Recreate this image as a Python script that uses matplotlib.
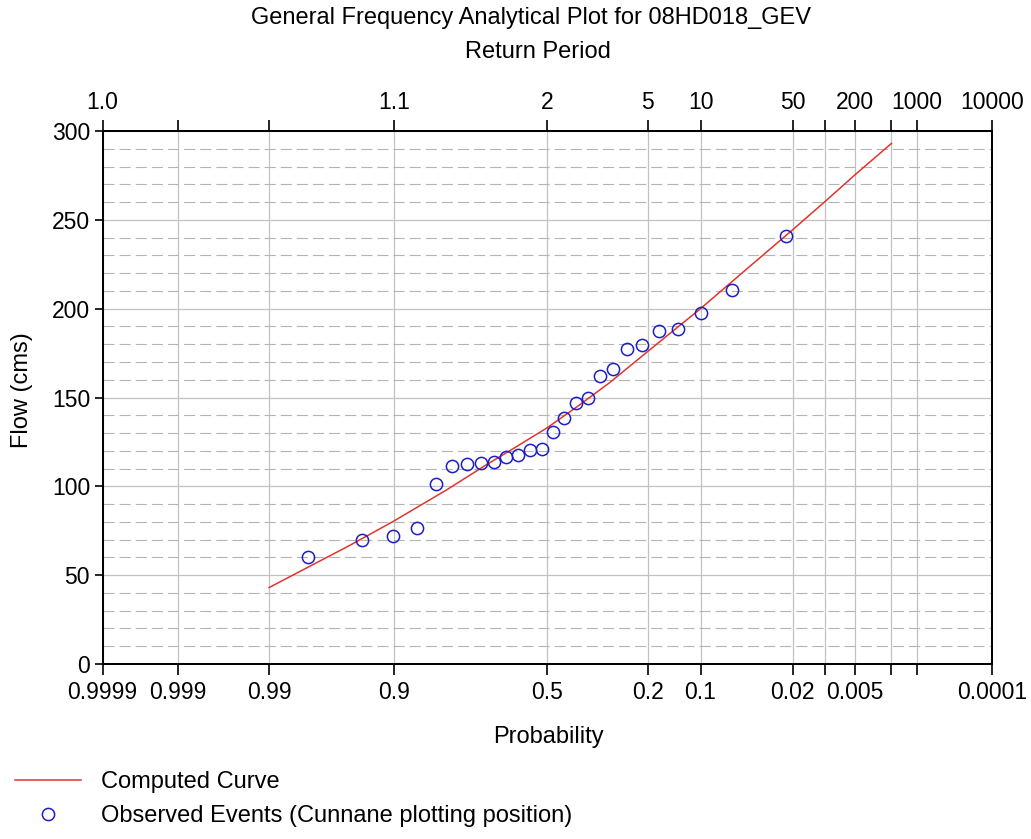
from statistics import NormalDist
import numpy as np
import matplotlib
matplotlib.use('Agg')
import matplotlib.pyplot as plt
from matplotlib.lines import Line2D
from matplotlib.ticker import MultipleLocator

plt.rcParams['font.family'] = ['Liberation Sans', 'DejaVu Sans']

# computed GEV curve: exceedance probability -> flow (cms)
curve_prob = [0.99, 0.95, 0.9, 0.8, 0.7, 0.6, 0.5, 0.4, 0.3, 0.2, 0.1, 0.05, 0.02, 0.01, 0.005, 0.002]
curve_flow = [43, 67, 80.5, 98, 111.5, 122.5, 133, 145, 158.5, 176, 200, 221, 244.5, 260.5, 275.5, 293]

# ranked annual peaks and their Cunnane plotting positions
obs_prob = [0.0229, 0.0611, 0.0992, 0.1374, 0.1756, 0.2137, 0.2519, 0.2901, 0.3282,
            0.3664, 0.4046, 0.4427, 0.4809, 0.5191, 0.5573, 0.5954, 0.6336, 0.6718,
            0.7099, 0.7481, 0.7863, 0.8244, 0.8626, 0.9008, 0.9389, 0.9771]
obs_flow = [241, 210.5, 197.5, 188.5, 187.5, 179.5, 177.5, 166, 162,
            150, 147, 138.5, 130.5, 121, 120.5, 117.5, 116.5, 113.5,
            113, 112.5, 111.5, 101.5, 76.5, 72, 70, 60.5]

tick_prob = [0.9999, 0.999, 0.99, 0.9, 0.5, 0.2, 0.1, 0.02, 0.01, 0.005, 0.002, 0.001, 0.0001]
prob_labels = ['0.9999', '0.999', '0.99', '0.9', '0.5', '0.2', '0.1', '0.02', '', '0.005', '', '', '0.0001']
period_labels = ['1.0', '', '', '1.1', '2', '5', '10', '50', '', '200', '', '1000', '10000']

nd = NormalDist()
_inv = np.vectorize(lambda q: nd.inv_cdf(1 - q), otypes=[float])
_cdf = np.vectorize(lambda v: 1 - nd.cdf(v), otypes=[float])


def prob_to_z(p):
    p = np.clip(np.asarray(p, dtype=float), 1e-12, 1 - 1e-12)
    return _inv(p)


def z_to_prob(z):
    return _cdf(np.asarray(z, dtype=float))


def setup_prob_axis(a):
    # normal probability paper, high exceedance probability on the left
    a.set_xscale('function', functions=(prob_to_z, z_to_prob))
    a.set_xlim(0.0001, 0.9999)


red = '#e0342c'
blue = '#1e1ec8'
grid_col = '#c2c2c2'

fig = plt.figure(figsize=(10.31, 8.39), dpi=100)
ax = fig.add_axes([102.5 / 1031, 1 - 664 / 839, (992 - 102.5) / 1031, (664 - 131) / 839])

setup_prob_axis(ax)
ax.set_ylim(0, 300)
ax.set_yticks(range(0, 301, 50))
ax.yaxis.set_minor_locator(MultipleLocator(10))
ax.set_xticks(tick_prob, labels=prob_labels)

ax.set_axisbelow(True)
ax.grid(axis='x', which='major', color=grid_col, lw=0.9, ls='-')
ax.grid(axis='y', which='major', color=grid_col, lw=0.9, ls='-')
ax.grid(axis='y', which='minor', color='#b4b4b4', lw=0.8, ls=(0, (10, 4.5)))

curve_line, = ax.plot(curve_prob, curve_flow, color=red, lw=1.1, zorder=3)
ax.plot(obs_prob, obs_flow, ls='none', marker='o', ms=8.8, mfc='none',
        mec=blue, mew=1.1, zorder=4)

ax.tick_params(axis='x', which='major', direction='out', length=8, width=1.2,
               pad=4, labelsize=16.5, top=False)
ax.tick_params(axis='y', which='major', direction='out', length=6, width=1.2,
               pad=3, labelsize=16.5, right=False)
ax.tick_params(axis='y', which='minor', length=0)
for s in ax.spines.values():
    s.set_linewidth(1.3)

# return period scale along the top
ax_top = ax.twiny()
setup_prob_axis(ax_top)
ax_top.set_xticks(tick_prob, labels=period_labels)
ax_top.tick_params(axis='x', direction='out', length=8, width=1.2, pad=4, labelsize=16.5)
for s in ax_top.spines.values():
    s.set_linewidth(1.3)

fig.text(531 / 1031, 1 - 18 / 839, 'General Frequency Analytical Plot for 08HD018_GEV',
         ha='center', va='center', fontsize=17)
fig.text(538 / 1031, 1 - 52 / 839, 'Return Period', ha='center', va='center', fontsize=17)
fig.text(548 / 1031, 1 - 737 / 839, 'Probability', ha='center', va='center', fontsize=17)
fig.text(22 / 1031, 1 - 390 / 839, 'Flow (cms)', ha='center', va='center',
         rotation=90, fontsize=17)

obs_handle = Line2D([], [], ls='none', marker='o', ms=8.8, mfc='none', mec=blue, mew=1.1)
fig.legend([curve_line, obs_handle],
           ['Computed Curve', 'Observed Events (Cunnane plotting position)'],
           loc='center left', bbox_to_anchor=(15 / 1031, 1 - 799 / 839),
           frameon=False, fontsize=17, handlelength=2.8, handletextpad=0.85,
           labelspacing=0.5, borderpad=0, borderaxespad=0)

fig.savefig('out.png', dpi=100)
